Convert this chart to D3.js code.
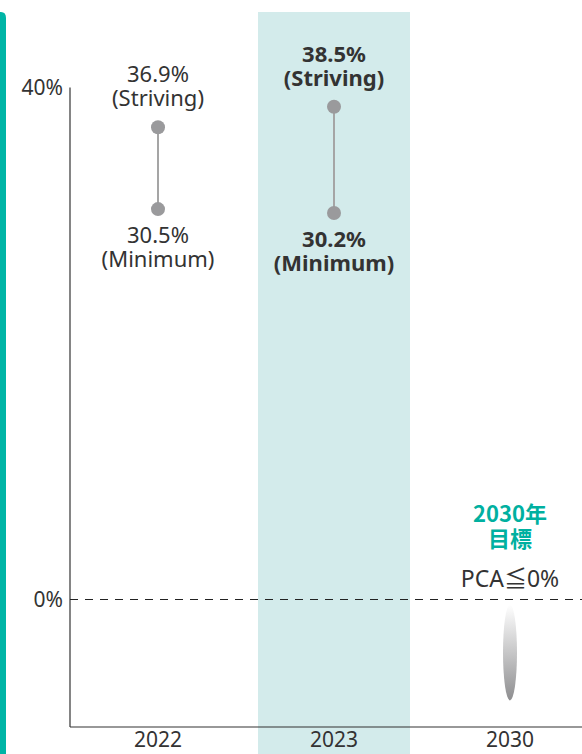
<!DOCTYPE html>
<html>
<head>
<meta charset="utf-8">
<script src="https://cdn.jsdelivr.net/npm/d3@7"></script>
<style>
  body { margin: 0; background: #fff; }
  svg { display: block; font-family: "Noto Sans", "Noto Sans CJK JP", sans-serif; }
</style>
</head>
<body>
<svg id="chart" width="582" height="754"></svg>
<script>
// data
var years = ["2022", "2023", "2030"];
var striving = [36.9, 38.5, null];
var minimum = [30.5, 30.2, null];
var yTicks = [0, 40];
var highlightYear = "2023";
var targetYear = "2030";
var targetTitle = ["2030年", "目標"];
var targetText = "PCA≦0%";

var svg = d3.select("#chart");

// scales
var x = d3.scaleBand().domain(years).range([70, 598]).padding(0);
var y = d3.scaleLinear().domain([0, 40]).range([599.5, 87.5]);
var axisBottomY = 727;

// left teal bar
svg.append("path")
  .attr("d", "M0,12 L1,12 Q6,12 6,18 L6,754 L0,754 Z")
  .attr("fill", "#00b5a6");

// highlight band for 2023
svg.append("rect")
  .attr("x", x(highlightYear) + 12)
  .attr("y", 12)
  .attr("width", x.bandwidth() - 24)
  .attr("height", 754 - 12)
  .attr("fill", "#d3ebeb");

// y axis
var yAxis = d3.axisLeft(y)
  .tickValues(yTicks)
  .tickSize(0)
  .tickPadding(7)
  .tickFormat(function (d) { return d + "%"; });

var gy = svg.append("g")
  .attr("transform", "translate(70,0)")
  .call(yAxis);
gy.select(".domain").remove();
gy.selectAll("text")
  .attr("font-size", 21)
  .attr("fill", "#333")
  .attr("font-family", "Noto Sans");

svg.append("line")
  .attr("x1", 70).attr("x2", 70)
  .attr("y1", y(40)).attr("y2", axisBottomY)
  .attr("stroke", "#333").attr("stroke-width", 1.2);

// x axis
var xAxis = d3.axisBottom(x).tickSize(0).tickPadding(5);
var gx = svg.append("g")
  .attr("transform", "translate(0," + axisBottomY + ")")
  .call(xAxis);
gx.select(".domain").remove();
gx.selectAll("text")
  .attr("font-size", 21)
  .attr("fill", "#333")
  .attr("font-family", "Noto Sans");

svg.append("line")
  .attr("x1", 70).attr("x2", 582)
  .attr("y1", axisBottomY).attr("y2", axisBottomY)
  .attr("stroke", "#333").attr("stroke-width", 1.2);

// zero dashed line
svg.append("line")
  .attr("x1", 70).attr("x2", 582)
  .attr("y1", y(0)).attr("y2", y(0))
  .attr("stroke", "#222").attr("stroke-width", 1)
  .attr("stroke-dasharray", "8,7");

// range lines and dots
var rows = years.map(function (d, i) {
  return { year: d, hi: striving[i], lo: minimum[i] };
}).filter(function (d) { return d.hi != null; });

svg.selectAll(".rng").data(rows).enter().append("line")
  .attr("class", "rng")
  .attr("x1", function (d) { return x(d.year) + x.bandwidth() / 2; })
  .attr("x2", function (d) { return x(d.year) + x.bandwidth() / 2; })
  .attr("y1", function (d) { return y(d.hi); })
  .attr("y2", function (d) { return y(d.lo); })
  .attr("stroke", "#a5a5a5").attr("stroke-width", 2);

var dots = [];
rows.forEach(function (d) { dots.push({ year: d.year, v: d.hi }); dots.push({ year: d.year, v: d.lo }); });
svg.selectAll(".dot").data(dots).enter().append("circle")
  .attr("class", "dot")
  .attr("cx", function (d) { return x(d.year) + x.bandwidth() / 2; })
  .attr("cy", function (d) { return y(d.v); })
  .attr("r", 7)
  .attr("fill", "#9a9a9c");

// labels
rows.forEach(function (d) {
  var cx = x(d.year) + x.bandwidth() / 2;
  var bold = d.year === highlightYear;
  var t1 = svg.append("text")
    .attr("x", cx).attr("text-anchor", "middle")
    .attr("font-size", 22).attr("fill", "#333")
    .attr("font-weight", bold ? "bold" : "normal");
  t1.append("tspan").attr("x", cx).attr("y", y(d.hi) - 45).text(d.hi.toFixed(1) + "%");
  t1.append("tspan").attr("x", cx).attr("y", y(d.hi) - 21).text("(Striving)");

  var t2 = svg.append("text")
    .attr("x", cx).attr("text-anchor", "middle")
    .attr("font-size", 22).attr("fill", "#333")
    .attr("font-weight", bold ? "bold" : "normal");
  t2.append("tspan").attr("x", cx).attr("y", y(d.lo) + 34).text(d.lo.toFixed(1) + "%");
  t2.append("tspan").attr("x", cx).attr("y", y(d.lo) + 58).text("(Minimum)");
});

// 2030 target
var tx = x(targetYear) + x.bandwidth() / 2;
var grad = svg.append("defs").append("linearGradient")
  .attr("id", "tgtGrad").attr("x1", 0).attr("y1", 0).attr("x2", 0).attr("y2", 1);
grad.append("stop").attr("offset", "0%").attr("stop-color", "#ffffff");
grad.append("stop").attr("offset", "100%").attr("stop-color", "#8e8e90");

svg.append("ellipse")
  .attr("cx", tx).attr("cy", y(0) + 53)
  .attr("rx", 7).attr("ry", 48)
  .attr("fill", "url(#tgtGrad)");

svg.append("text")
  .attr("text-anchor", "middle")
  .attr("font-size", 22).attr("font-weight", "bold")
  .attr("fill", "#00b0a0")
  .attr("font-family", "Noto Sans CJK JP")
  .selectAll("tspan").data(targetTitle).enter().append("tspan")
  .attr("x", tx)
  .attr("y", function (d, i) { return 522 + i * 25; })
  .text(function (d) { return d; });

svg.append("text")
  .attr("x", tx).attr("y", 587)
  .attr("text-anchor", "middle")
  .attr("font-size", 23).attr("fill", "#333")
  .text(targetText);
</script>
</body>
</html>
